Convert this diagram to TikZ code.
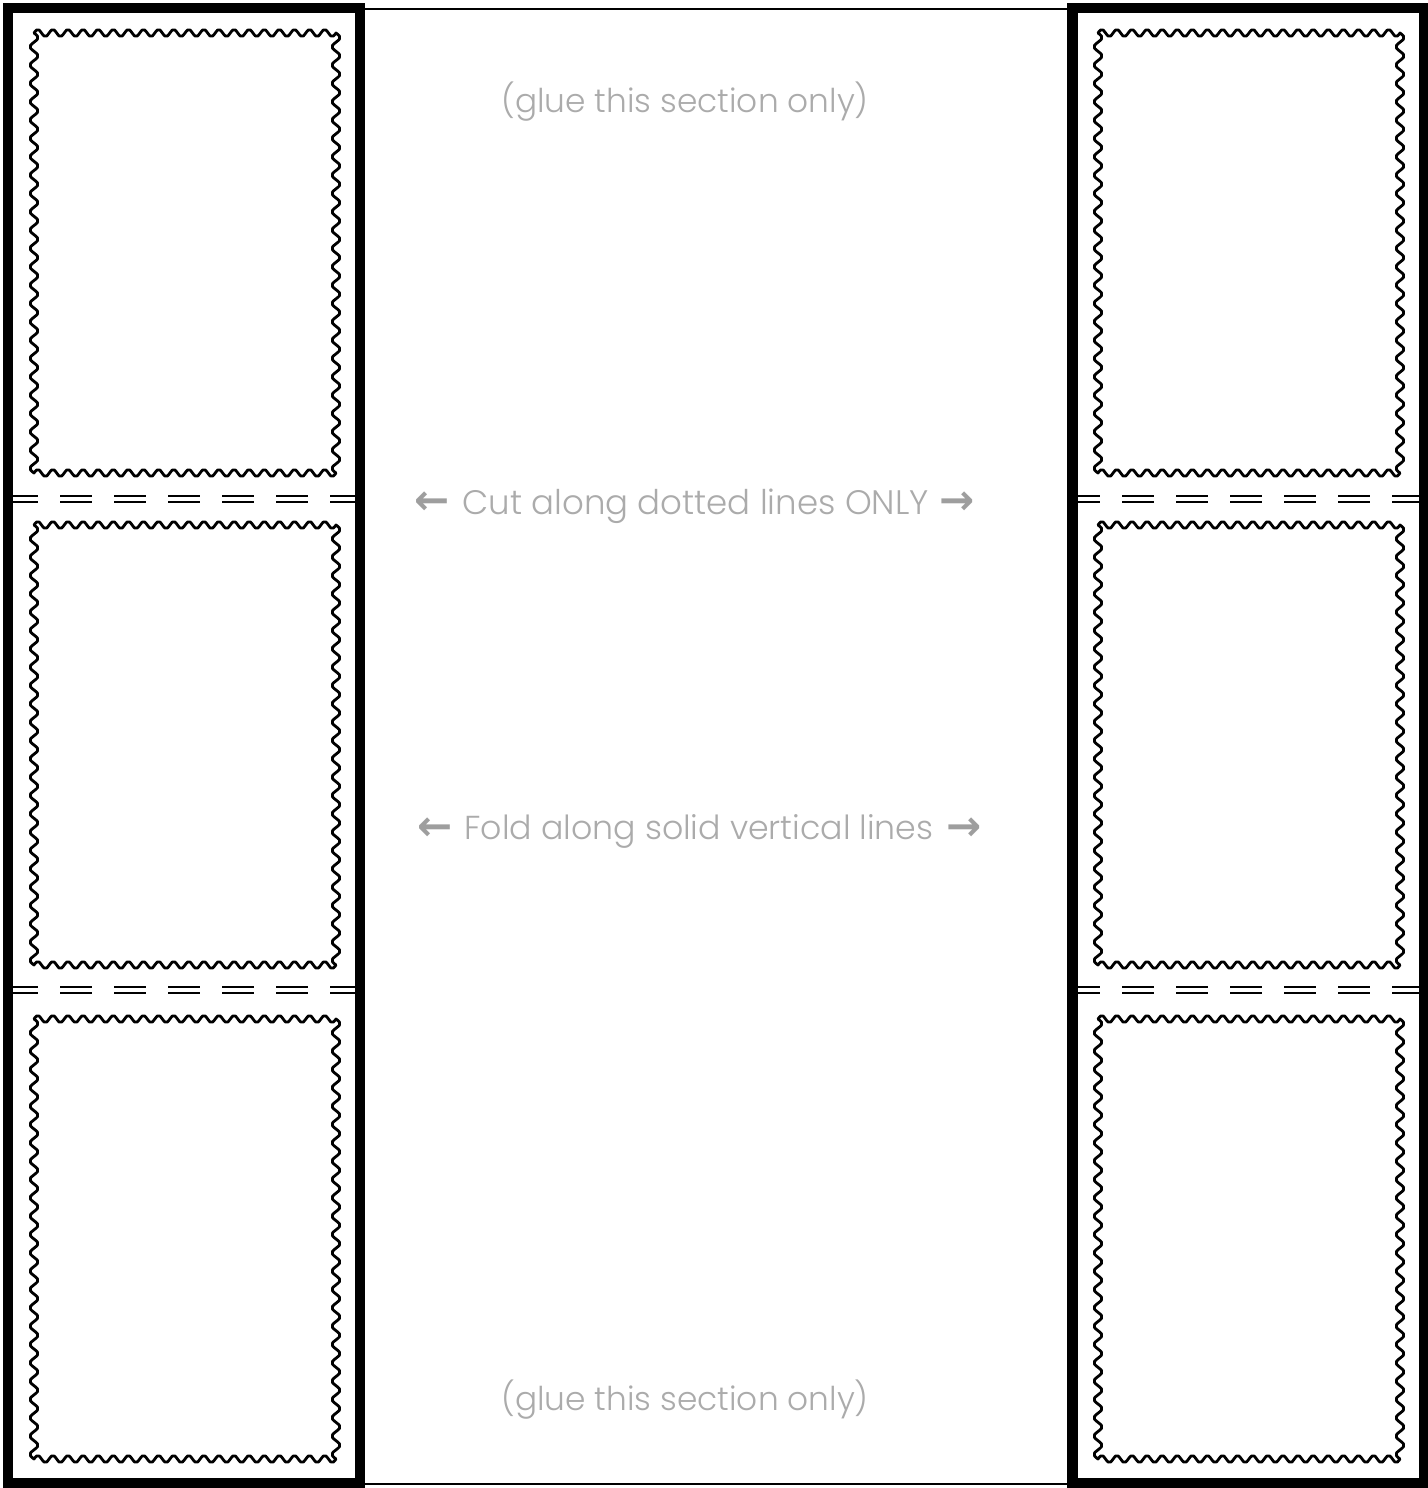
\documentclass[tikz,border=0pt]{standalone}
\usepackage{fontspec}
\setmainfont{Poppins}[UprightFont=* Light]
\newfontfamily\arrowfont{DejaVu Sans Bold}
\definecolor{txtgrey}{HTML}{ABABAB}
\definecolor{arrgrey}{HTML}{9E9E9E}
\newcommand{\stampframe}[4]{%
  \draw[stampline]
    plot[smooth,domain=0:1,samples=121,variable=\t] ({#1+(#3-#1)*\t},{#2-3.5*sin(20*360*\t)})
 -- plot[smooth,domain=0:1,samples=145,variable=\t] ({#3+4*sin(24*360*\t)},{#2+(#4-#2)*\t})
 -- plot[smooth,domain=0:1,samples=121,variable=\t] ({#3-(#3-#1)*\t},{#4+3.5*sin(20*360*\t)})
 -- plot[smooth,domain=0:1,samples=145,variable=\t] ({#1-4*sin(24*360*\t)},{#4-(#4-#2)*\t}) -- cycle;}
\begin{document}
\begin{tikzpicture}[x=0.5pt,y=-0.5pt,
  stampline/.style={line width=1.4pt,black,line join=round},
  panel/.style={line width=5.3pt,black},
  thinframe/.style={line width=1pt,black},
  cutline/.style={line width=0.9pt,black,dash pattern=on 16pt off 11pt},
  lbl/.style={text=txtgrey,font=\fontsize{16.6}{20}\selectfont,inner sep=0pt,anchor=base},
  arr/.style={text=arrgrey,font=\arrowfont\fontsize{21}{24}\selectfont,inner sep=0pt,anchor=center}]
\useasboundingbox (0,0) rectangle (1428,1488);
\fill[white] (0,0) rectangle (1428,1488);
% stamps left
\stampframe{34}{33}{336}{473}
\stampframe{34}{525}{336}{965}
\stampframe{34}{1019}{336}{1459}
% stamps right
\stampframe{1098}{33}{1400}{473}
\stampframe{1098}{525}{1400}{965}
\stampframe{1098}{1019}{1400}{1459}
% cut lines
\foreach \yy in {499,990}{
  \draw[cutline,dash phase=3.5pt] (13,\yy-2.7) -- (355,\yy-2.7);
  \draw[cutline,dash phase=3.5pt] (13,\yy+2.7) -- (355,\yy+2.7);
  \draw[cutline,dash phase=5pt] (1078,\yy-2.7) -- (1420,\yy-2.7);
  \draw[cutline,dash phase=5pt] (1078,\yy+2.7) -- (1420,\yy+2.7);
}
% frames
\draw[thinframe] (8,9) rectangle (1424,1484);
\draw[panel] (8,8) rectangle (360,1483);
\draw[panel] (1072.5,8) rectangle (1424,1483);
% texts
\node[lbl,font=\fontsize{16.4}{20}\selectfont] (glueTop) at (685,112) {(glue this section only)};
\node[lbl,font=\fontsize{17}{20}\selectfont] (cut) at (695.5,514) {Cut along dotted lines ONLY};
\node[lbl] (fold) at (699,839) {Fold along solid vertical lines};
\node[lbl,font=\fontsize{16.4}{20}\selectfont] (glueBot) at (685,1410) {(glue this section only)};
% arrows
\node[arr] (cutL) at (432,503) {←};
\node[arr] (cutR) at (957,503) {→};
\node[arr] (foldL) at (435,829) {←};
\node[arr] (foldR) at (964,829) {→};
\end{tikzpicture}
\end{document}
